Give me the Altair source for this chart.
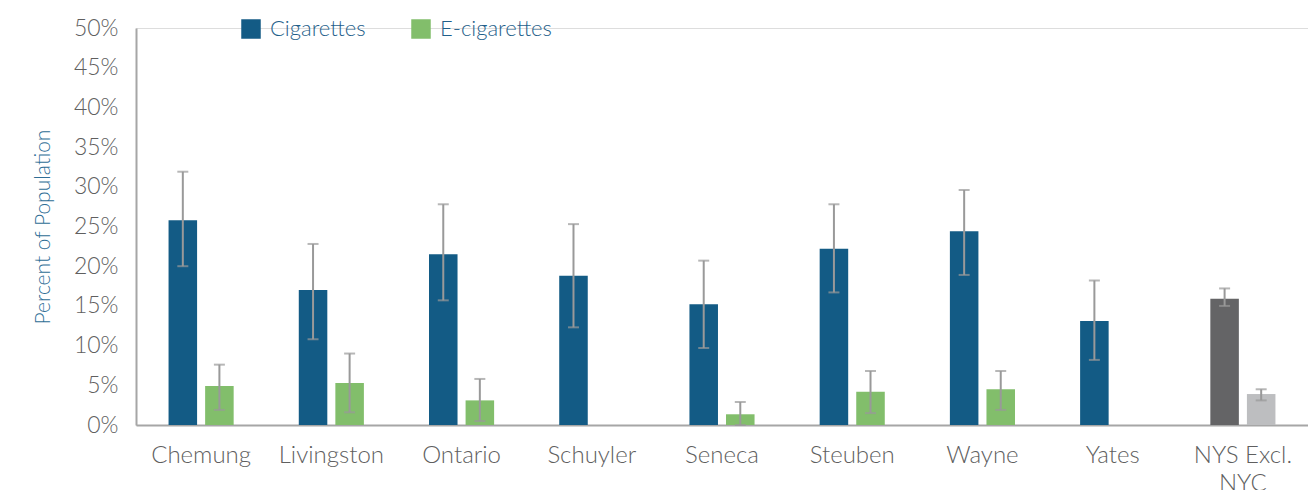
import altair as alt
import pandas as pd

counties = ["Chemung", "Livingston", "Ontario", "Schuyler", "Seneca",
            "Steuben", "Wayne", "Yates", "NYS Excl.|NYC"]
cig = [25.8, 17.0, 21.5, 18.8, 15.2, 22.2, 24.4, 13.1, 15.9]
cig_lo = [20.0, 10.8, 15.7, 12.3, 9.7, 16.7, 18.9, 8.2, 15.0]
cig_hi = [31.9, 22.8, 27.8, 25.3, 20.7, 27.8, 29.6, 18.2, 17.2]
ecig = [4.9, 5.3, 3.1, None, 1.35, 4.2, 4.5, None, 3.9]
ecig_lo = [1.9, 1.6, 0.5, None, 0.0, 1.5, 1.9, None, 3.1]
ecig_hi = [7.6, 9.0, 5.8, None, 2.9, 6.8, 6.8, None, 4.5]
y_ticks = [0, 5, 10, 15, 20, 25, 30, 35, 40, 45, 50]

rows = []
for i, c in enumerate(counties):
    nys = c.startswith("NYS")
    rows.append(dict(county=c, series="Cigarettes", value=cig[i], lo=cig_lo[i], hi=cig_hi[i],
                     ckey="NYS Cigarettes" if nys else "Cigarettes"))
    if ecig[i] is not None:
        rows.append(dict(county=c, series="E-cigarettes", value=ecig[i], lo=ecig_lo[i], hi=ecig_hi[i],
                         ckey="NYS E-cigarettes" if nys else "E-cigarettes"))
df = pd.DataFrame(rows)

FONT = "Lato"

x_axis = alt.Axis(title=None, labelAngle=0, labelFontSize=24, labelColor="#5f5f5f",
                  labelFont=FONT, labelFontWeight=300, labelPadding=18, ticks=False,
                  domainColor="#A6A6A6", domainWidth=2, labelOverlap=False,
                  labelExpr="split(datum.value, '|')", labelLineHeight=28)
y_axis = alt.Axis(title="Percent of Population", values=y_ticks,
                  labelExpr="datum.value + '%'", labelFontSize=23, labelColor="#5f5f5f",
                  labelFont=FONT, labelFontWeight=300, labelPadding=18, ticks=False, grid=False,
                  labelOverlap=False, labelBound=False,
                  domainColor="#A6A6A6", domainWidth=2,
                  titleFont=FONT, titleFontSize=21, titleFontWeight=300,
                  titleColor="#2E6E96", titlePadding=20)
x_scale = alt.Scale(paddingInner=0.5, paddingOuter=0.25)
y_scale = alt.Scale(domain=[0, 50], nice=False)


def X():
    return alt.X("county:N", sort=counties, scale=x_scale, axis=x_axis)


def XO():
    return alt.XOffset("series:N", scale=alt.Scale(domain=["Cigarettes", "E-cigarettes"], paddingInner=0.22))


bars = alt.Chart(df).mark_bar().encode(
    x=X(),
    xOffset=XO(),
    y=alt.Y("value:Q", scale=y_scale, axis=y_axis),
    color=alt.Color("ckey:N",
                    scale=alt.Scale(domain=["Cigarettes", "E-cigarettes", "NYS Cigarettes", "NYS E-cigarettes"],
                                    range=["#135B85", "#82BE6B", "#646466", "#BDBEC0"]),
                    legend=alt.Legend(title=None, orient="none", legendX=104, legendY=-10,
                                      direction="horizontal", values=["Cigarettes", "E-cigarettes"],
                                      symbolType="square", symbolSize=380, symbolStrokeWidth=0,
                                      labelFontSize=22, labelColor="#1F5F8B", labelFont=FONT,
                                      labelFontWeight=300, columnPadding=44, labelOffset=8)),
)

rules = alt.Chart(df).mark_rule(color="#999999", strokeWidth=2).encode(
    x=X(), xOffset=XO(),
    y=alt.Y("lo:Q", scale=y_scale, axis=y_axis), y2="hi:Q")
caps_hi = alt.Chart(df).mark_tick(color="#999999", thickness=2, size=11).encode(
    x=X(), xOffset=XO(), y=alt.Y("hi:Q", scale=y_scale, axis=y_axis))
caps_lo = alt.Chart(df).mark_tick(color="#999999", thickness=2, size=11).encode(
    x=X(), xOffset=XO(), y=alt.Y("lo:Q", scale=y_scale, axis=y_axis))

chart = alt.layer(bars, rules, caps_hi, caps_lo).properties(
    width=1172, height=397,
    autosize=alt.AutoSizeParams(type="none"),
    padding={"left": 136, "top": 28, "right": 0, "bottom": 65},
).configure_view(stroke=None).configure(background="white")

chart.save("out.html", embed_options={"renderer": "svg", "actions": False})
